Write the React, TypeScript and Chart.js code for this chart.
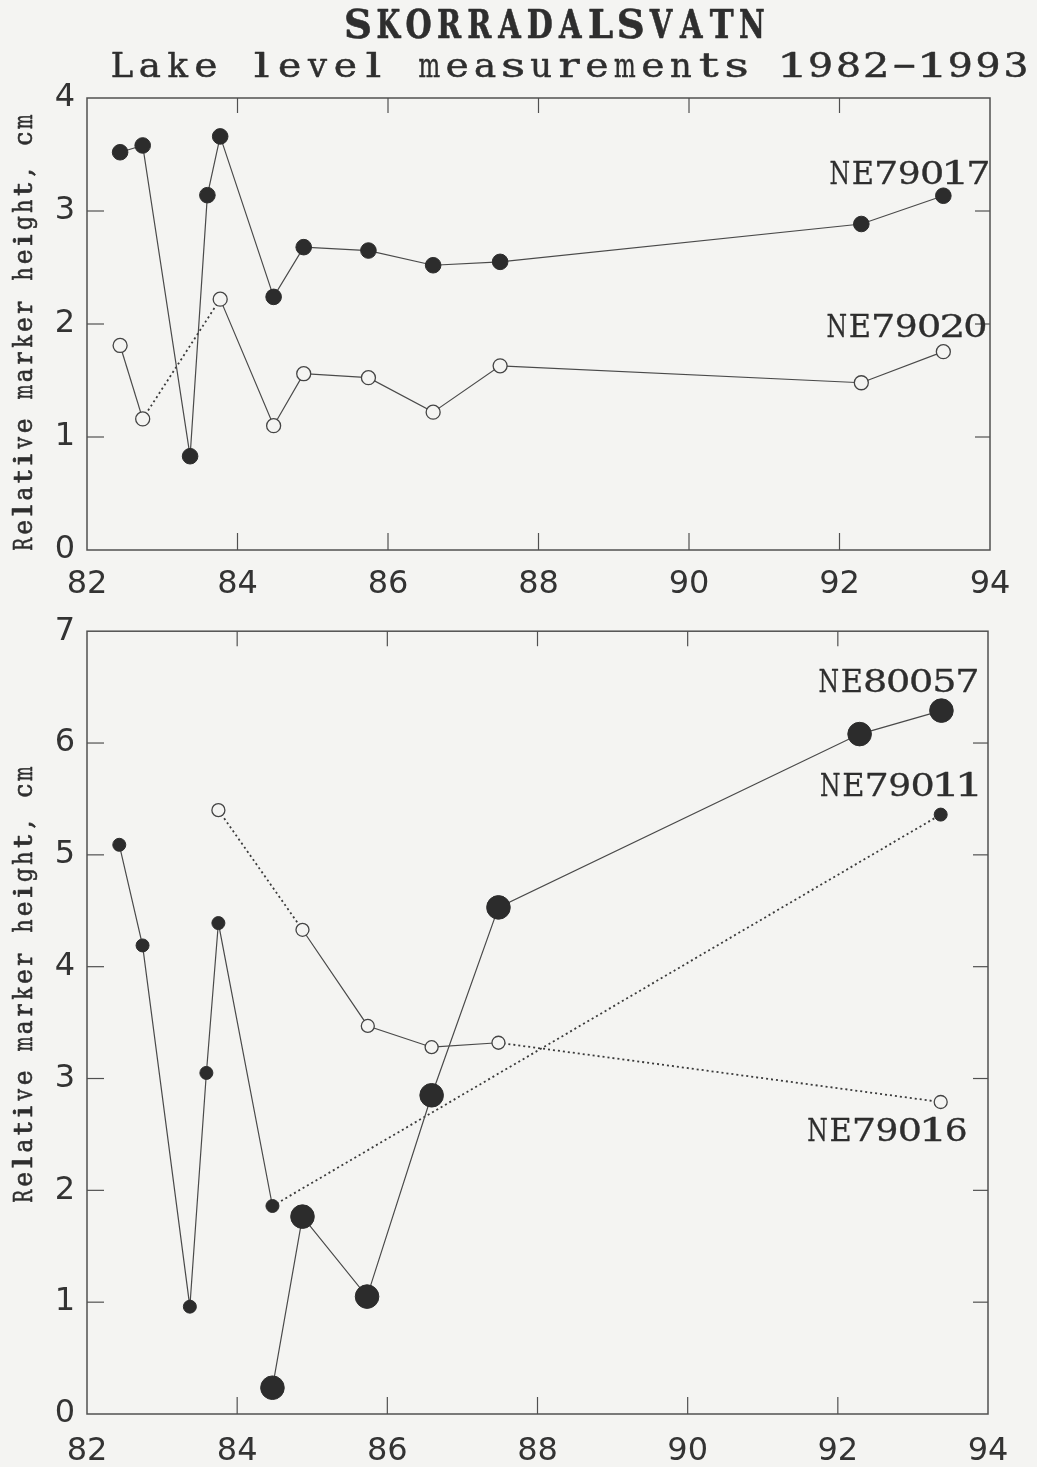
import React, { useEffect, useRef } from 'react';
import { Chart, registerables } from 'chart.js';

Chart.register(...registerables);

const BG = '#f4f4f2';
const INK = '#2c2c2c';
const LINE = '#4a4a4a';
const TEXT = '#2e2e2e';
const SERIF = '"DejaVu Serif", "Liberation Serif", serif';

// ---- axis ranges / ticks ----
const xMin = 82;
const xMax = 94;
const xStep = 2;
const topYMax = 4;
const bottomYMax = 7;
const yStep = 1;

// ---- top panel: NE79017 (filled) ----
const ne79017Years = [82.44, 82.74, 83.37, 83.6, 83.77, 84.48, 84.88, 85.74, 86.6, 87.49, 92.29, 93.38];
const ne79017Values = [3.52, 3.58, 0.83, 3.14, 3.66, 2.24, 2.68, 2.65, 2.52, 2.55, 2.885, 3.135];

// ---- top panel: NE79020 (open) ----
const ne79020Years = [82.44, 82.74, 83.77, 84.48, 84.88, 85.74, 86.6, 87.49, 92.29, 93.38];
const ne79020Values = [1.81, 1.16, 2.22, 1.1, 1.56, 1.525, 1.22, 1.63, 1.48, 1.755];
const ne79020Dotted = [1];

// ---- bottom panel: NE79011 (small filled) ----
const ne79011Years = [82.43, 82.74, 83.37, 83.59, 83.75, 84.47, 93.37];
const ne79011Values = [5.09, 4.19, 0.96, 3.05, 4.39, 1.86, 5.36];
const ne79011Dotted = [5];

// ---- bottom panel: NE80057 (large filled) ----
const ne80057Years = [84.47, 84.87, 85.73, 86.59, 87.48, 92.29, 93.38];
const ne80057Values = [0.235, 1.765, 1.05, 2.85, 4.53, 6.08, 6.29];

// ---- bottom panel: NE79016 (open) ----
const ne79016Years = [83.75, 84.87, 85.74, 86.59, 87.48, 93.37];
const ne79016Values = [5.4, 4.33, 3.47, 3.28, 3.32, 2.79];
const ne79016Dotted = [0, 4];

// ---- series labels (anchored in data units, right-aligned) ----
const topLabelNames = ['NE79017', 'NE79020'];
const topLabelX = [94.0, 93.96];
const topLabelY = [3.34, 1.99];
const bottomLabelNames = ['NE80057', 'NE79011', 'NE79016'];
const bottomLabelX = [93.88, 93.9, 93.73];
const bottomLabelY = [6.56, 5.63, 2.54];

const titleText = 'SKORRADALSVATN';
const subtitleText = 'Lake level measurements 1982\u22121993';
const yTitleText = 'Relative marker height, cm';

type TW = { pitch: number; cap: number; bold: boolean; fill: number; weight: number };

// draw text as a typewriter: each glyph centred in a fixed-pitch cell
function drawTypewriter(ctx: any, text: string, left: number, baseline: number, t: TW) {
  ctx.font = `${t.bold ? 'bold ' : ''}100px ${SERIF}`;
  const m = ctx.measureText('H');
  const ratio = (m.actualBoundingBoxAscent || 72) / 100;
  const size = t.cap / ratio;
  ctx.font = `${t.bold ? 'bold ' : ''}${size.toFixed(2)}px ${SERIF}`;
  ctx.textAlign = 'center';
  ctx.textBaseline = 'alphabetic';
  ctx.lineJoin = 'round';
  for (let i = 0; i < text.length; i++) {
    const ch = text[i];
    if (ch === ' ') continue;
    const mm = ctx.measureText(ch);
    const ink = (mm.actualBoundingBoxLeft || 0) + (mm.actualBoundingBoxRight || mm.width);
    let s = 1;
    if (/[A-Za-z0-9\u2212]/.test(ch) && ink > 0) {
      s = Math.max(0.6, Math.min(1.45, (t.fill * t.pitch) / ink));
    }
    ctx.save();
    ctx.translate(left + (i + 0.5) * t.pitch, baseline);
    ctx.scale(s, 1);
    ctx.fillText(ch, 0, 0);
    if (t.weight > 0) {
      ctx.lineWidth = t.weight;
      ctx.strokeText(ch, 0, 0);
    }
    ctx.restore();
  }
}

const LABEL_TW: TW = { pitch: 23.1, cap: 23, bold: false, fill: 0.84, weight: 0.3 };

const frameTicksPlugin = {
  id: 'frameTicks',
  afterDraw(chart: any, _args: any, opts: any) {
    const { ctx, chartArea: a, scales } = chart;
    const xs = scales.x;
    const ys = scales.y;
    ctx.save();
    ctx.strokeStyle = '#505050';
    ctx.lineWidth = 1.5;
    ctx.strokeRect(a.left, a.top, a.right - a.left, a.bottom - a.top);
    ctx.lineWidth = 1.2;
    const seg = (x1: number, y1: number, x2: number, y2: number) => {
      ctx.beginPath();
      ctx.moveTo(x1, y1);
      ctx.lineTo(x2, y2);
      ctx.stroke();
    };
    xs.ticks.forEach((t: any) => {
      const px = xs.getPixelForValue(t.value);
      if (px <= a.left + 1 || px >= a.right - 1) return;
      seg(px, a.bottom, px, a.bottom - 17);
      seg(px, a.top, px, a.top + 15);
    });
    ys.ticks.forEach((t: any) => {
      const py = ys.getPixelForValue(t.value);
      if (py <= a.top + 1 || py >= a.bottom - 1) return;
      seg(a.left, py, a.left + 17, py);
      seg(a.right, py, a.right - 15, py);
    });
    ctx.fillStyle = TEXT;
    ctx.strokeStyle = TEXT;
    // series labels, right-aligned at a data x, vertically centred at a data y
    (opts.labels || []).forEach((l: any) => {
      const right = xs.getPixelForValue(l.x);
      const mid = ys.getPixelForValue(l.y);
      drawTypewriter(ctx, l.text, right - l.text.length * LABEL_TW.pitch, mid + LABEL_TW.cap / 2, LABEL_TW);
    });
    // headings (centred at x, baseline y)
    (opts.headings || []).forEach((h: any) => {
      const width = h.text.length * h.tw.pitch;
      if (h.rotate) {
        ctx.save();
        ctx.translate(h.x, h.y);
        ctx.rotate(-Math.PI / 2);
        drawTypewriter(ctx, h.text, -width / 2, 0, h.tw);
        ctx.restore();
      } else {
        drawTypewriter(ctx, h.text, h.x - width / 2, h.y, h.tw);
      }
    });
    ctx.restore();
  },
};

type Style = { radius: number; fill: string; stroke: string; bw: number };
const FILLED: Style = { radius: 7.8, fill: INK, stroke: INK, bw: 1 };
const OPEN: Style = { radius: 7, fill: BG, stroke: '#444', bw: 1.3 };

function makeDataset(label: string, xs: number[], ys: number[], dotted: number[], st: Style, order: number) {
  return {
    label,
    data: xs.map((x, i) => ({ x, y: ys[i] })),
    showLine: true,
    borderColor: LINE,
    borderWidth: 1.2,
    pointRadius: st.radius,
    pointHoverRadius: st.radius,
    pointBackgroundColor: st.fill,
    pointBorderColor: st.stroke,
    pointBorderWidth: st.bw,
    order,
    segment: {
      borderDash: (c: any) => (dotted.includes(c.p0DataIndex) ? [2, 3] : undefined),
      borderWidth: (c: any) => (dotted.includes(c.p0DataIndex) ? 1.8 : undefined),
      borderColor: (c: any) => (dotted.includes(c.p0DataIndex) ? '#3a3a3a' : undefined),
    },
  };
}

function makeOptions(yMax: number, padTop: number, padRight: number, xAxisHeight: number, xLabelPad: number, plugOpts: any) {
  return {
    responsive: false,
    animation: false as const,
    layout: { padding: { top: padTop, right: padRight, left: 0, bottom: 0 } },
    plugins: {
      legend: { display: false },
      tooltip: { enabled: false },
      frameTicks: plugOpts,
    },
    scales: {
      x: {
        type: 'linear' as const,
        min: xMin,
        max: xMax,
        ticks: {
          stepSize: xStep,
          color: '#333',
          font: { family: '"DejaVu Sans", sans-serif', size: 32 },
          padding: xLabelPad,
          maxRotation: 0,
          autoSkip: false,
        },
        grid: { display: false, drawTicks: false },
        border: { display: false },
        afterFit: (s: any) => {
          s.height = xAxisHeight;
        },
      },
      y: {
        type: 'linear' as const,
        min: 0,
        max: yMax,
        ticks: {
          stepSize: yStep,
          color: '#333',
          font: { family: '"DejaVu Sans", sans-serif', size: 32 },
          padding: 12,
        },
        grid: { display: false, drawTicks: false },
        border: { display: false },
        afterFit: (s: any) => {
          s.width = 87;
        },
      },
    },
  };
}

export default function App() {
  const topRef = useRef<HTMLCanvasElement | null>(null);
  const bottomRef = useRef<HTMLCanvasElement | null>(null);

  useEffect(() => {
    const yTitle = {
      text: yTitleText,
      rotate: true,
      x: 32,
      tw: { pitch: 16.9, cap: 18.5, bold: false, fill: 0.76, weight: 0.6 } as TW,
    };
    const top = new Chart(topRef.current as HTMLCanvasElement, {
      type: 'scatter',
      data: {
        datasets: [
          makeDataset('NE79017', ne79017Years, ne79017Values, [], FILLED, 1),
          makeDataset('NE79020', ne79020Years, ne79020Values, ne79020Dotted, OPEN, 2),
        ],
      },
      options: makeOptions(topYMax, 98, 47, 50, 15, {
        labels: topLabelNames.map((t, i) => ({ text: t, x: topLabelX[i], y: topLabelY[i] })),
        headings: [
          { text: titleText, x: 555, y: 38, tw: { pitch: 30.3, cap: 28, bold: true, fill: 0.8, weight: 0.6 } },
          { text: subtitleText, x: 569, y: 77, tw: { pitch: 27.94, cap: 25, bold: false, fill: 0.74, weight: 0.5 } },
          { ...yTitle, y: 333 },
        ],
      }) as any,
      plugins: [frameTicksPlugin],
    });
    const bottom = new Chart(bottomRef.current as HTMLCanvasElement, {
      type: 'scatter',
      data: {
        datasets: [
          makeDataset('NE80057', ne80057Years, ne80057Values, [], { ...FILLED, radius: 11.8 }, 1),
          makeDataset('NE79011', ne79011Years, ne79011Values, ne79011Dotted, { ...FILLED, radius: 6.5 }, 2),
          makeDataset('NE79016', ne79016Years, ne79016Values, ne79016Dotted, { ...OPEN, radius: 6.5 }, 3),
        ],
      },
      options: makeOptions(bottomYMax, 23, 49, 53, 18, {
        labels: bottomLabelNames.map((t, i) => ({ text: t, x: bottomLabelX[i], y: bottomLabelY[i] })),
        headings: [{ ...yTitle, y: 385 }],
      }) as any,
      plugins: [frameTicksPlugin],
    });
    return () => {
      top.destroy();
      bottom.destroy();
    };
  }, []);

  return (
    <div
      style={{
        position: 'absolute',
        left: 0,
        top: 0,
        width: 1037,
        height: 1467,
        background: BG,
        overflow: 'hidden',
      }}
    >
      <canvas ref={topRef} width={1037} height={600} style={{ position: 'absolute', left: 0, top: 0, display: 'block' }} />
      <canvas ref={bottomRef} width={1037} height={867} style={{ position: 'absolute', left: 0, top: 600, display: 'block' }} />
    </div>
  );
}
